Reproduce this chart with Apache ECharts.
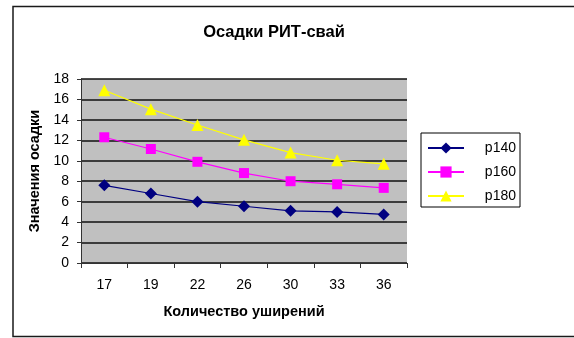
<!DOCTYPE html>
<html>
<head>
<meta charset="utf-8">
<script src="https://cdn.jsdelivr.net/npm/echarts@6/dist/echarts.min.js"></script>
<style>
  html, body { margin: 0; padding: 0; background: #fff; }
  #chart { width: 574px; height: 338px; }
</style>
</head>
<body>
<div id="chart"></div>
<script>
// Number of widenings (categories) and settlement values per load level
const categories = ['17', '19', '22', '26', '30', '33', '36'];
const p140 = [7.6, 6.8, 6.0, 5.55, 5.1, 5.0, 4.75];
const p160 = [12.3, 11.15, 9.9, 8.8, 8.0, 7.7, 7.35];
const p180 = [16.9, 15.05, 13.5, 12.05, 10.8, 10.05, 9.7];
const yTicks = [0, 2, 4, 6, 8, 10, 12, 14, 16, 18];

const FONT = '"Liberation Sans", Arial, sans-serif';

const chart = echarts.init(document.getElementById('chart'), null, { renderer: 'canvas' });

function lineSeries(name, data, color, symbol, size) {
  return {
    name: name,
    type: 'line',
    data: data,
    symbol: symbol,
    symbolSize: size,
    lineStyle: { color: color, width: 1.2 },
    itemStyle: { color: color },
    emphasis: { disabled: true },
    z: 3
  };
}

chart.setOption({
  animation: false,
  backgroundColor: '#ffffff',
  title: {
    text: 'Осадки РИТ-свай',
    left: 269,
    top: 19,
    textAlign: 'center',
    textStyle: { fontFamily: FONT, fontSize: 16.5, fontWeight: 'bold', color: '#000' }
  },
  graphic: [{
    type: 'rect',
    shape: { x: 13, y: 6.5, width: 620, height: 330 },
    style: { fill: 'none', stroke: '#1a1a1a', lineWidth: 1.5 },
    silent: true,
    z: 0
  }],
  grid: {
    left: 81, top: 79, width: 326, height: 184,
    show: true, backgroundColor: '#c0c0c0', borderWidth: 0
  },
  legend: {
    orient: 'vertical',
    left: 421, top: 133,
    padding: [8, 4, 4, 6],
    itemGap: 10,
    itemWidth: 36,
    itemHeight: 14,
    backgroundColor: '#fff',
    borderColor: '#000',
    borderWidth: 1,
    formatter: '{n|{name}}',
    textStyle: {
      fontFamily: FONT, fontSize: 14, color: '#000',
      rich: { n: { fontFamily: FONT, fontSize: 14, color: '#000', width: 47, align: 'right' } }
    },
    data: ['p140', 'p160', 'p180']
  },
  xAxis: {
    type: 'category',
    data: categories,
    boundaryGap: true,
    name: 'Количество уширений',
    nameLocation: 'middle',
    nameGap: 41,
    nameTextStyle: { fontFamily: FONT, fontSize: 14.5, fontWeight: 'bold', color: '#000' },
    axisLine: { lineStyle: { color: '#333', width: 1 } },
    axisTick: { show: true, length: 5, alignWithLabel: false, lineStyle: { color: '#333' } },
    axisLabel: { fontFamily: FONT, fontSize: 14, color: '#000', margin: 15 },
    splitLine: { show: false }
  },
  yAxis: {
    type: 'value',
    min: yTicks[0],
    max: yTicks[yTicks.length - 1],
    interval: 2,
    name: 'Значения осадки',
    nameLocation: 'middle',
    nameGap: 35,
    nameRotate: 90,
    nameTextStyle: { fontFamily: FONT, fontSize: 14.5, fontWeight: 'bold', color: '#000' },
    axisLine: { show: true, lineStyle: { color: '#333', width: 1 } },
    axisTick: { show: true, length: 4, lineStyle: { color: '#333' } },
    axisLabel: { fontFamily: FONT, fontSize: 14, color: '#000', margin: 12 },
    splitLine: { show: true, lineStyle: { color: '#111', width: 1.5 } }
  },
  series: [
    lineSeries('p140', p140, '#000080', 'diamond', 12),
    lineSeries('p160', p160, '#ff00ff', 'rect', 10),
    lineSeries('p180', p180, '#ffff00', 'triangle', 12)
  ]
});
</script>
</body>
</html>
